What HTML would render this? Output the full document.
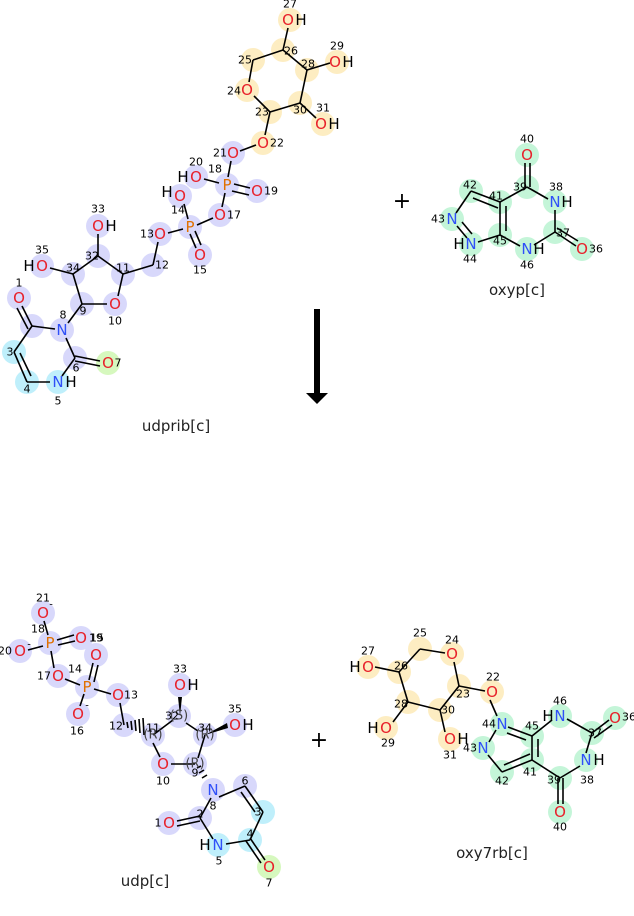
<!DOCTYPE html>
<html><head><meta charset="utf-8"><style>
html,body{margin:0;padding:0;background:#fff}
svg{display:block}
text{font-family:"DejaVu Sans","Liberation Sans",sans-serif}
.a{font-size:15px;text-anchor:middle;dominant-baseline:central}
.n{font-size:11px;fill:#000;text-anchor:middle;dominant-baseline:central}
.O{fill:#e8202a}.N{fill:#3050f8}.P{fill:#e07000}.H{fill:#000}
.cap{font-size:15px;fill:#222;text-anchor:middle}
line{stroke:#000;stroke-width:1.6}
.v circle{fill:#d8d8fb}.y circle{fill:#fdedc2}.c circle{fill:#bfeffb}.g circle{fill:#c4f5d8}.l circle{fill:#d6f8be}
</style></head><body>
<svg width="634" height="916" viewBox="0 0 634 916" xmlns="http://www.w3.org/2000/svg">
<!-- ===== udprib ===== -->
<g class="y"><circle cx="290" cy="20" r="12"/><circle cx="283" cy="50" r="12"/><circle cx="253" cy="60" r="12"/><circle cx="247" cy="90" r="12"/><circle cx="270" cy="112" r="12"/><circle cx="300" cy="103" r="12"/><circle cx="307" cy="70" r="12"/><circle cx="337" cy="62" r="12"/><circle cx="323" cy="124" r="12"/><circle cx="263" cy="143" r="12"/></g>
<g class="v"><circle cx="233" cy="153" r="12"/><circle cx="227" cy="185" r="12"/><circle cx="196" cy="177" r="12"/><circle cx="257" cy="191" r="12"/><circle cx="220" cy="215" r="12"/><circle cx="180" cy="196" r="12"/><circle cx="190" cy="227" r="12"/><circle cx="200" cy="255" r="12"/><circle cx="160" cy="234" r="12"/><circle cx="153" cy="265" r="12"/><circle cx="123" cy="274" r="12"/><circle cx="98" cy="256" r="12"/><circle cx="98" cy="226" r="12"/><circle cx="73" cy="274" r="12"/><circle cx="42" cy="266" r="12"/><circle cx="82" cy="304" r="12"/><circle cx="115" cy="304" r="12"/><circle cx="62" cy="330" r="12"/><circle cx="32" cy="326" r="12"/><circle cx="19" cy="298" r="12"/><circle cx="75" cy="358" r="12"/></g>
<g class="c"><circle cx="14" cy="352" r="12"/><circle cx="27" cy="382" r="12"/><circle cx="58" cy="382" r="12"/></g>
<g class="l"><circle cx="108" cy="363" r="12"/></g>
<g>
<line x1="288" y1="28" x2="283" y2="50"/><line x1="283" y1="50" x2="253" y2="60"/><line x1="253" y1="60" x2="249" y2="82"/><line x1="254" y1="96" x2="270" y2="112"/><line x1="270" y1="112" x2="300" y2="103"/><line x1="300" y1="103" x2="307" y2="70"/><line x1="307" y1="70" x2="283" y2="50"/><line x1="307" y1="70" x2="330" y2="63"/><line x1="300" y1="103" x2="316" y2="118"/><line x1="270" y1="112" x2="265" y2="135"/>
<line x1="256" y1="145" x2="240" y2="151"/><line x1="231" y1="161" x2="228" y2="177"/><line x1="219" y1="183" x2="204" y2="179"/><line x1="234" y1="184" x2="250" y2="188"/><line x1="232" y1="191" x2="249" y2="195"/><line x1="225" y1="193" x2="222" y2="207"/><line x1="213" y1="218" x2="197" y2="225"/><line x1="184" y1="204" x2="188" y2="219"/><line x1="190" y1="234" x2="196" y2="248"/><line x1="195" y1="231" x2="201" y2="245"/><line x1="183" y1="229" x2="168" y2="233"/><line x1="158" y1="242" x2="153" y2="265"/><line x1="153" y1="265" x2="123" y2="274"/><line x1="123" y1="274" x2="98" y2="256"/><line x1="98" y1="256" x2="98" y2="234"/><line x1="98" y1="256" x2="73" y2="274"/><line x1="73" y1="274" x2="50" y2="268"/><line x1="73" y1="274" x2="82" y2="304"/><line x1="82" y1="304" x2="107" y2="304"/><line x1="123" y1="274" x2="118" y2="296"/><line x1="82" y1="304" x2="68" y2="323"/><line x1="55" y1="329" x2="32" y2="326"/><line x1="32" y1="326" x2="22" y2="306"/><line x1="28" y1="329" x2="17" y2="308"/><line x1="32" y1="326" x2="14" y2="352"/><line x1="14" y1="352" x2="27" y2="382"/><line x1="20" y1="353" x2="31" y2="376"/><line x1="27" y1="382" x2="50" y2="382"/><line x1="62" y1="376" x2="75" y2="358"/><line x1="75" y1="358" x2="66" y2="338"/><line x1="75" y1="356" x2="100" y2="361"/><line x1="75" y1="361" x2="100" y2="366"/>
</g>
<g>
<text class="a O" x="288" y="20">O</text><text class="a H" x="301" y="20">H</text><text class="n" x="290" y="4">27</text>
<text class="n" x="291" y="51">26</text><text class="n" x="245" y="60">25</text>
<text class="a O" x="247" y="90">O</text><text class="n" x="234" y="91">24</text>
<text class="n" x="262" y="112">23</text><text class="n" x="300" y="110">30</text><text class="n" x="308" y="64">28</text>
<text class="a O" x="335" y="62">O</text><text class="a H" x="348" y="62">H</text><text class="n" x="337" y="46">29</text>
<text class="a O" x="321" y="124">O</text><text class="a H" x="334" y="124">H</text><text class="n" x="323" y="108">31</text>
<text class="a O" x="263" y="143">O</text><text class="n" x="277" y="143">22</text>
<text class="a O" x="233" y="153">O</text><text class="n" x="220" y="153">21</text>
<text class="a P" x="227" y="185">P</text><text class="n" x="215" y="169">18</text>
<text class="a O" x="196" y="177">O</text><text class="a H" x="183" y="177">H</text><text class="n" x="196" y="162">20</text>
<text class="a O" x="257" y="191">O</text><text class="n" x="271" y="191">19</text>
<text class="a O" x="220" y="215">O</text><text class="n" x="234" y="215">17</text>
<text class="a O" x="180" y="196">O</text><text class="a H" x="167" y="192">H</text><text class="n" x="178" y="210">14</text>
<text class="a P" x="190" y="227">P</text>
<text class="a O" x="200" y="255">O</text><text class="n" x="200" y="270">15</text>
<text class="a O" x="160" y="234">O</text><text class="n" x="147" y="234">13</text>
<text class="n" x="162" y="265">12</text><text class="n" x="123" y="268">11</text><text class="n" x="92" y="256">32</text>
<text class="a O" x="98" y="226">O</text><text class="a H" x="111" y="226">H</text><text class="n" x="98" y="209">33</text>
<text class="n" x="73" y="268">34</text>
<text class="a O" x="42" y="266">O</text><text class="a H" x="29" y="266">H</text><text class="n" x="42" y="250">35</text>
<text class="n" x="83" y="311">9</text>
<text class="a O" x="115" y="304">O</text><text class="n" x="115" y="321">10</text>
<text class="a N" x="62" y="330">N</text><text class="n" x="63" y="315">8</text>
<text class="a O" x="19" y="298">O</text><text class="n" x="19" y="283">1</text>
<text class="n" x="10" y="352">3</text><text class="n" x="27" y="389">4</text>
<text class="a N" x="58" y="382">N</text><text class="a H" x="71" y="382">H</text><text class="n" x="58" y="401">5</text>
<text class="n" x="76" y="368">6</text>
<text class="a O" x="108" y="363">O</text><text class="n" x="118" y="363">7</text>
<text class="cap" x="176" y="431">udprib[c]</text>
</g>
<!-- plus -->
<text x="402" y="208" style="font-size:22px;text-anchor:middle">+</text>
<!-- ===== oxyp ===== -->
<g class="g"><circle cx="527" cy="155" r="12"/><circle cx="527" cy="187" r="12"/><circle cx="555" cy="202" r="12"/><circle cx="555" cy="232" r="12"/><circle cx="582" cy="249" r="12"/><circle cx="527" cy="249" r="12"/><circle cx="500" cy="235" r="12"/><circle cx="500" cy="202" r="12"/><circle cx="471" cy="191" r="12"/><circle cx="452" cy="219" r="12"/><circle cx="471" cy="244" r="12"/></g>
<g>
<line x1="525" y1="163" x2="525" y2="187"/><line x1="530" y1="163" x2="530" y2="187"/><line x1="527" y1="187" x2="548" y2="199"/><line x1="555" y1="210" x2="555" y2="232"/><line x1="555" y1="232" x2="576" y2="246"/><line x1="557" y1="228" x2="578" y2="241"/><line x1="555" y1="232" x2="534" y2="245"/><line x1="520" y1="246" x2="500" y2="235"/><line x1="500" y1="235" x2="500" y2="202"/><line x1="506" y1="231" x2="506" y2="206"/><line x1="500" y1="202" x2="527" y2="187"/><line x1="500" y1="202" x2="471" y2="191"/><line x1="498" y1="208" x2="473" y2="198"/><line x1="471" y1="191" x2="456" y2="213"/><line x1="457" y1="226" x2="467" y2="238"/><line x1="462" y1="222" x2="472" y2="234"/><line x1="478" y1="242" x2="500" y2="235"/>
</g>
<g>
<text class="a O" x="527" y="155">O</text><text class="n" x="527" y="139">40</text>
<text class="n" x="520" y="187">39</text><text class="n" x="496" y="196">41</text><text class="n" x="470" y="185">42</text>
<text class="a N" x="555" y="202">N</text><text class="a H" x="567" y="202">H</text><text class="n" x="556" y="187">38</text>
<text class="n" x="563" y="233">37</text>
<text class="a O" x="582" y="249">O</text><text class="n" x="596" y="249">36</text>
<text class="a N" x="527" y="249">N</text><text class="a H" x="539" y="249">H</text><text class="n" x="527" y="265">46</text>
<text class="n" x="500" y="241">45</text>
<text class="a N" x="452" y="219">N</text><text class="n" x="438" y="219">43</text>
<text class="a N" x="471" y="244">N</text><text class="a H" x="459" y="244">H</text><text class="n" x="470" y="259">44</text>
<text class="cap" x="517" y="295">oxyp[c]</text>
</g>
<!-- arrow -->
<rect x="314" y="309" width="6" height="86" fill="#000"/>
<polygon points="306,393 328,393 317,404" fill="#000"/>
<!-- ===== udp ===== -->
<g class="v"><circle cx="43" cy="613" r="12"/><circle cx="50" cy="643" r="12"/><circle cx="20" cy="651" r="12"/><circle cx="81" cy="638" r="12"/><circle cx="96" cy="655" r="12"/><circle cx="58" cy="676" r="12"/><circle cx="87" cy="687" r="12"/><circle cx="78" cy="714" r="12"/><circle cx="118" cy="695" r="12"/><circle cx="124" cy="725" r="12"/><circle cx="153" cy="735" r="12"/><circle cx="179" cy="716" r="12"/><circle cx="180" cy="685" r="12"/><circle cx="205" cy="735" r="12"/><circle cx="235" cy="725" r="12"/><circle cx="195" cy="764" r="12"/><circle cx="163" cy="764" r="12"/><circle cx="213" cy="790" r="12"/><circle cx="200" cy="818" r="12"/><circle cx="169" cy="823" r="12"/><circle cx="245" cy="786" r="12"/></g>
<g class="c"><circle cx="263" cy="812" r="12"/><circle cx="250" cy="840" r="12"/><circle cx="218" cy="845" r="12"/></g>
<g class="l"><circle cx="269" cy="867" r="12"/></g>
<g>
<line x1="44" y1="621" x2="48" y2="635"/><line x1="57" y1="640" x2="74" y2="635"/><line x1="58" y1="645" x2="75" y2="641"/><line x1="43" y1="646" x2="28" y2="650"/><line x1="51" y1="651" x2="54" y2="668"/><line x1="65" y1="679" x2="80" y2="685"/><line x1="89" y1="680" x2="93" y2="663"/><line x1="94" y1="682" x2="98" y2="665"/><line x1="84" y1="694" x2="80" y2="706"/><line x1="94" y1="689" x2="111" y2="694"/><line x1="120" y1="703" x2="124" y2="725"/><line x1="186" y1="723" x2="198" y2="731"/><line x1="153" y1="735" x2="173" y2="720"/><line x1="205" y1="735" x2="198" y2="758"/><line x1="153" y1="743" x2="160" y2="757"/><line x1="171" y1="764" x2="195" y2="764"/><line x1="219" y1="797" x2="245" y2="786"/><line x1="245" y1="786" x2="263" y2="812"/><line x1="241" y1="792" x2="255" y2="812"/><line x1="263" y1="812" x2="250" y2="840"/><line x1="250" y1="840" x2="226" y2="844"/><line x1="250" y1="838" x2="265" y2="860"/><line x1="246" y1="841" x2="261" y2="863"/><line x1="211" y1="798" x2="200" y2="818"/><line x1="200" y1="818" x2="213" y2="839"/><line x1="200" y1="816" x2="177" y2="821"/><line x1="200" y1="821" x2="177" y2="826"/>
</g>
<polygon points="178,697 182,697 180,716" fill="#000"/>
<polygon points="205,735 227,723 228,728" fill="#000"/>
<g stroke="#000" stroke-width="1.2">
<line x1="127" y1="722" x2="128" y2="728"/><line x1="131" y1="721" x2="132" y2="730"/><line x1="135" y1="720" x2="136" y2="731"/><line x1="139" y1="719" x2="140" y2="733"/><line x1="143" y1="718" x2="144" y2="735"/>
<line x1="197" y1="768" x2="201" y2="766"/><line x1="199" y1="773" x2="204" y2="770"/><line x1="202" y1="778" x2="207" y2="775"/>
</g>
<g>
<text class="a O" x="43" y="613">O</text><text class="a H" x="51" y="605" style="font-size:10px">-</text><text class="n" x="43" y="598">21</text>
<text class="a P" x="50" y="643">P</text><text class="n" x="38" y="629">18</text>
<text class="a O" x="20" y="651">O</text><text class="a H" x="29" y="645" style="font-size:10px">-</text><text class="n" x="5" y="651">20</text>
<text class="a O" x="81" y="638">O</text><text class="n" x="96" y="638">19</text>
<text class="a O" x="96" y="655">O</text><text class="n" x="97" y="638">15</text>
<text class="a O" x="58" y="676">O</text><text class="n" x="44" y="676">17</text>
<text class="a P" x="87" y="687">P</text><text class="n" x="75" y="669">14</text>
<text class="a O" x="78" y="714">O</text><text class="a H" x="87" y="706" style="font-size:10px">-</text><text class="n" x="77" y="731">16</text>
<text class="a O" x="118" y="695">O</text><text class="n" x="131" y="695">13</text>
<text class="n" x="116" y="726">12</text>
<text class="a H" x="153" y="735" style="font-size:13px;fill:#444">(R)</text><text class="n" x="153" y="728">11</text>
<text class="a H" x="179" y="716" style="font-size:13px;fill:#444">(S)</text><text class="n" x="172" y="716">32</text>
<text class="a O" x="180" y="685">O</text><text class="a H" x="193" y="685">H</text><text class="n" x="180" y="669">33</text>
<text class="a H" x="205" y="735" style="font-size:13px;fill:#444">(R)</text><text class="n" x="205" y="728">34</text>
<text class="a O" x="235" y="725">O</text><text class="a H" x="248" y="725">H</text><text class="n" x="235" y="709">35</text>
<text class="a H" x="195" y="764" style="font-size:13px;fill:#444">(R)</text><text class="n" x="195" y="773">9</text>
<text class="a O" x="163" y="764">O</text><text class="n" x="163" y="781">10</text>
<text class="a N" x="213" y="790">N</text><text class="n" x="213" y="806">8</text>
<text class="n" x="245" y="781">6</text><text class="n" x="258" y="812">3</text><text class="n" x="250" y="834">4</text>
<text class="n" x="200" y="814">2</text>
<text class="a O" x="169" y="823">O</text><text class="n" x="158" y="823">1</text>
<text class="a N" x="218" y="845">N</text><text class="a H" x="205" y="845">H</text><text class="n" x="219" y="861">5</text>
<text class="a O" x="269" y="867">O</text><text class="n" x="269" y="883">7</text>
<text class="cap" x="145" y="886">udp[c]</text>
</g>
<text x="319" y="747" style="font-size:22px;text-anchor:middle">+</text>
<!-- ===== oxy7rb ===== -->
<g class="y"><circle cx="420" cy="649" r="12"/><circle cx="452" cy="654" r="12"/><circle cx="399" cy="672" r="12"/><circle cx="368" cy="667" r="12"/><circle cx="459" cy="686" r="12"/><circle cx="492" cy="692" r="12"/><circle cx="408" cy="702" r="12"/><circle cx="386" cy="728" r="12"/><circle cx="440" cy="710" r="12"/><circle cx="450" cy="739" r="12"/></g>
<g class="g"><circle cx="502" cy="724" r="12"/><circle cx="532" cy="736" r="12"/><circle cx="483" cy="748" r="12"/><circle cx="502" cy="772" r="12"/><circle cx="532" cy="760" r="12"/><circle cx="560" cy="778" r="12"/><circle cx="560" cy="812" r="12"/><circle cx="586" cy="760" r="12"/><circle cx="592" cy="733" r="12"/><circle cx="615" cy="718" r="12"/><circle cx="560" cy="716" r="12"/></g>
<g>
<line x1="420" y1="649" x2="445" y2="653"/><line x1="420" y1="649" x2="399" y2="672"/><line x1="399" y1="672" x2="375" y2="667"/><line x1="399" y1="672" x2="408" y2="702"/><line x1="408" y1="702" x2="440" y2="710"/><line x1="408" y1="702" x2="393" y2="722"/><line x1="440" y1="710" x2="459" y2="686"/><line x1="440" y1="710" x2="445" y2="732"/><line x1="459" y1="686" x2="454" y2="662"/><line x1="459" y1="686" x2="485" y2="691"/><line x1="490" y1="700" x2="497" y2="716"/>
<line x1="489" y1="742" x2="496" y2="730"/><line x1="508" y1="727" x2="532" y2="736"/><line x1="507" y1="733" x2="526" y2="740"/><line x1="532" y1="736" x2="532" y2="760"/><line x1="538" y1="739" x2="538" y2="757"/><line x1="532" y1="736" x2="552" y2="720"/><line x1="532" y1="760" x2="502" y2="772"/><line x1="530" y1="754" x2="504" y2="765"/><line x1="502" y1="772" x2="488" y2="755"/><line x1="532" y1="760" x2="560" y2="778"/><line x1="558" y1="778" x2="558" y2="804"/><line x1="563" y1="778" x2="563" y2="804"/><line x1="560" y1="778" x2="580" y2="766"/><line x1="586" y1="753" x2="592" y2="733"/><line x1="592" y1="733" x2="567" y2="719"/><line x1="592" y1="733" x2="609" y2="720"/><line x1="594" y1="738" x2="612" y2="725"/>
</g>
<g>
<text class="n" x="420" y="633">25</text>
<text class="a O" x="452" y="654">O</text><text class="n" x="452" y="640">24</text>
<text class="n" x="401" y="666">26</text>
<text class="a O" x="368" y="667">O</text><text class="a H" x="355" y="667">H</text><text class="n" x="368" y="651">27</text>
<text class="n" x="463" y="694">23</text>
<text class="a O" x="492" y="692">O</text><text class="n" x="493" y="677">22</text>
<text class="n" x="401" y="704">28</text>
<text class="a O" x="386" y="728">O</text><text class="a H" x="373" y="728">H</text><text class="n" x="388" y="743">29</text>
<text class="n" x="448" y="710">30</text>
<text class="a O" x="450" y="739">O</text><text class="a H" x="463" y="739">H</text><text class="n" x="450" y="755">31</text>
<text class="a N" x="502" y="724">N</text><text class="n" x="489" y="724">44</text>
<text class="n" x="532" y="726">45</text>
<text class="a N" x="483" y="748">N</text><text class="n" x="470" y="748">43</text>
<text class="n" x="502" y="781">42</text><text class="n" x="530" y="772">41</text><text class="n" x="554" y="780">39</text>
<text class="a O" x="560" y="812">O</text><text class="n" x="560" y="827">40</text>
<text class="a N" x="586" y="760">N</text><text class="a H" x="599" y="760">H</text><text class="n" x="587" y="780">38</text>
<text class="n" x="595" y="733">37</text>
<text class="a O" x="615" y="718">O</text><text class="n" x="629" y="717">36</text>
<text class="a N" x="560" y="716">N</text><text class="a H" x="548" y="716">H</text><text class="n" x="560" y="701">46</text>
<text class="cap" x="492" y="858">oxy7rb[c]</text>
</g>
</svg>
</body></html>
